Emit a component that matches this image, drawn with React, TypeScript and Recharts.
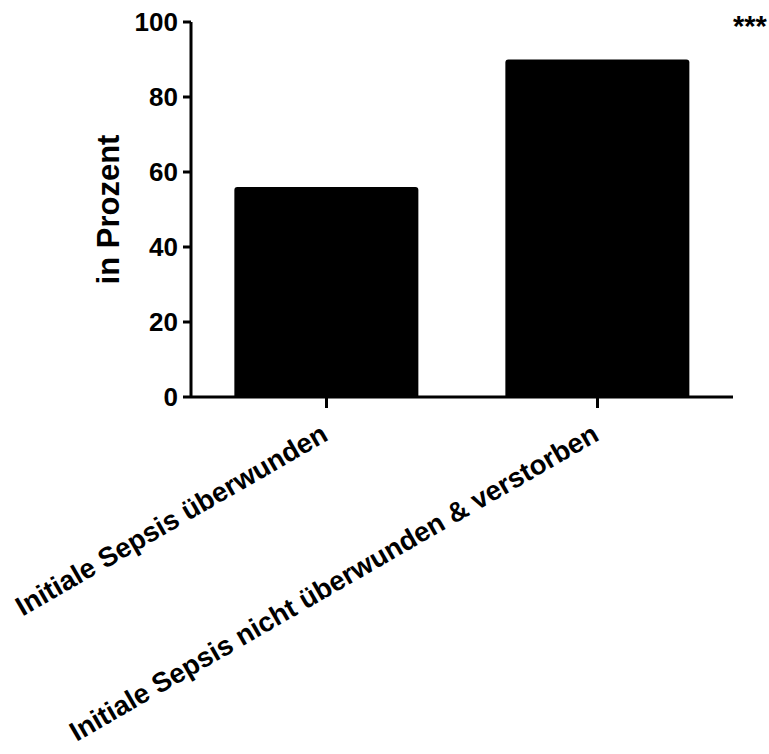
import { BarChart, Bar, XAxis, YAxis, Label } from "recharts";

const categories = ["Initiale Sepsis überwunden", "Initiale Sepsis nicht überwunden & verstorben"];
const percentValues = [56, 90];
const yTicks = [0, 20, 40, 60, 80, 100];
const significance = "***";

const data = categories.map((name, i) => ({ name, value: percentValues[i] }));

const FONT = "Arial, 'Liberation Sans', sans-serif";

function SlantedTick(props: any) {
  const { x, y, payload } = props;
  return (
    <text
      x={x}
      y={y}
      transform={`rotate(-30, ${x}, ${y})`}
      textAnchor="end"
      dy={27}
      dx={-12}
      fontFamily={FONT}
      fontWeight="bold"
      fontSize={27.5}
      fill="#000"
    >
      {payload.value}
    </text>
  );
}

export default function App() {
  return (
    <div style={{ position: "absolute", left: 0, top: 0, width: 769, height: 754, background: "#fff" }}>
      <BarChart
        width={769}
        height={754}
        data={data}
        margin={{ top: 22, right: 36, bottom: 0, left: 0 }}
        barCategoryGap="16%"
      >
        <XAxis
          dataKey="name"
          height={357}
          interval={0}
          tick={<SlantedTick />}
          tickSize={11}
          axisLine={{ stroke: "#000", strokeWidth: 3 }}
          tickLine={{ stroke: "#000", strokeWidth: 3 }}
        />
        <YAxis
          width={191}
          domain={[0, 100]}
          ticks={yTicks}
          interval={0}
          tickSize={8}
          tickMargin={5}
          axisLine={{ stroke: "#000", strokeWidth: 3 }}
          tickLine={{ stroke: "#000", strokeWidth: 3 }}
          tick={{ fill: "#000", fontSize: 26, fontWeight: "bold", fontFamily: FONT }}
        >
          <Label
            value="in Prozent"
            angle={-90}
            position="insideLeft"
            offset={108}
            style={{ fill: "#000", fontSize: 31, fontWeight: "bold", fontFamily: FONT, textAnchor: "middle" }}
          />
        </YAxis>
        <Bar dataKey="value" fill="#000" radius={[3, 3, 0, 0]} isAnimationActive={false} />
      </BarChart>
      <div
        style={{
          position: "absolute",
          left: 733,
          top: 12,
          fontFamily: FONT,
          fontSize: 29,
          fontWeight: "bold",
          color: "#000",
          lineHeight: 1,
        }}
      >
        {significance}
      </div>
    </div>
  );
}
